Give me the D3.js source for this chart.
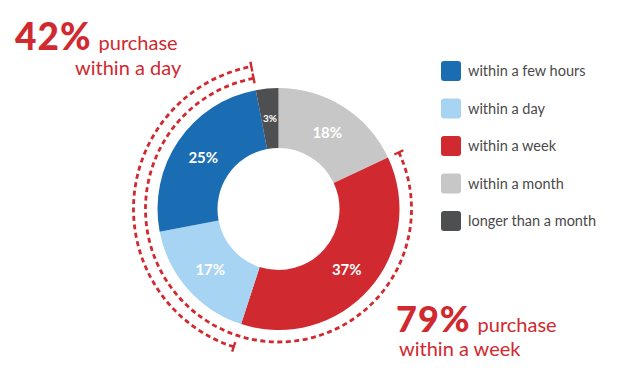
<!DOCTYPE html>
<html><head><meta charset="utf-8">
<script src="https://cdn.jsdelivr.net/npm/d3@7"></script>
<style>body{margin:0;background:#fff}svg{display:block}</style>
</head><body>
<script>
const categories = ["within a month","within a week","within a day","within a few hours","longer than a month"];
const values = [18,37,17,25,3];
const colors = ["#c7c7c7","#d0292f","#a7d4f2","#1b6db3","#4e4f50"];
const legendOrder = ["within a few hours","within a day","within a week","within a month","longer than a month"];
const brackets = [
  {label:"79%", text1:"purchase", text2:"within a week", from:"within a week", to:"within a few hours"},
  {label:"42%", text1:"purchase", text2:"within a day", from:"within a day", to:"within a few hours"}
];

const W=641,H=385, cx=278.5, cy=209, rOut=121, rIn=61;
const red="#d0292f";
const svg=d3.select("body").append("svg").attr("width",W).attr("height",H);
const g=svg.append("g").attr("transform",`translate(${cx},${cy})`);
const pie=d3.pie().sort(null).value(d=>d)(values);
const arc=d3.arc().innerRadius(rIn).outerRadius(rOut);
g.selectAll("path.slice").data(pie).join("path").attr("class","slice")
  .attr("d",arc).attr("fill",(d,i)=>colors[i]);
const labArc=d3.arc().innerRadius(91).outerRadius(91);
g.selectAll("text.pct").data(pie).join("text").attr("class","pct")
  .attr("transform",d=>`translate(${labArc.centroid(d)})`)
  .attr("text-anchor","middle").attr("dy","0.36em")
  .attr("fill","#fff").attr("font-family","Lato").attr("font-weight",700)
  .attr("font-size",d=>d.data<5?10:15)
  .text(d=>d.data+"%");

// dashed brackets
const radii=[133,145];
brackets.forEach((b,k)=>{
  const a0=pie[categories.indexOf(b.from)].startAngle;
  const a1=pie[categories.indexOf(b.to)].endAngle;
  const r=radii[k];
  const p=d3.path();
  p.moveTo(r*Math.sin(a0),-r*Math.cos(a0));
  p.arc(0,0,r,a0-Math.PI/2,a1-Math.PI/2,false);
  g.append("path").attr("d",p.toString())
   .attr("fill","none").attr("stroke",red).attr("stroke-width",2.8)
   .attr("stroke-dasharray","5,3.5");
  [a0,a1].forEach(a=>{
    g.append("line")
     .attr("x1",(r-5)*Math.sin(a)).attr("y1",-(r-5)*Math.cos(a))
     .attr("x2",(r+5)*Math.sin(a)).attr("y2",-(r+5)*Math.cos(a))
     .attr("stroke",red).attr("stroke-width",2.4);
  });
});

// annotations
function annot(b,x,y,x2,y2,fs){
  const t=svg.append("text").attr("x",x).attr("y",y).attr("font-family","Lato").attr("fill",red);
  t.append("tspan").attr("font-weight",900).attr("font-size",fs).attr("letter-spacing",1).text(b.label);
  t.append("tspan").attr("font-size",20).attr("dx",7).text(b.text1);
  svg.append("text").attr("x",x2).attr("y",y2).attr("font-family","Lato").attr("fill",red)
   .attr("font-size",20).text(b.text2);
}
annot(brackets[1],15,50,75,75,37);
annot(brackets[0],396,332,399,356,36);

// legend
const lg=svg.append("g").attr("transform","translate(441,71)");
legendOrder.forEach((c,i)=>{
  const row=lg.append("g").attr("transform",`translate(0,${i*37.5})`);
  row.append("rect").attr("x",0).attr("y",-10).attr("width",20).attr("height",20).attr("rx",3)
    .attr("fill",colors[categories.indexOf(c)]);
  row.append("text").attr("x",27).attr("y",0).attr("dy","0.35em")
    .attr("font-family","Lato").attr("font-size",14.5).attr("fill","#4a4a4a").text(c);
});
</script>
</body></html>
